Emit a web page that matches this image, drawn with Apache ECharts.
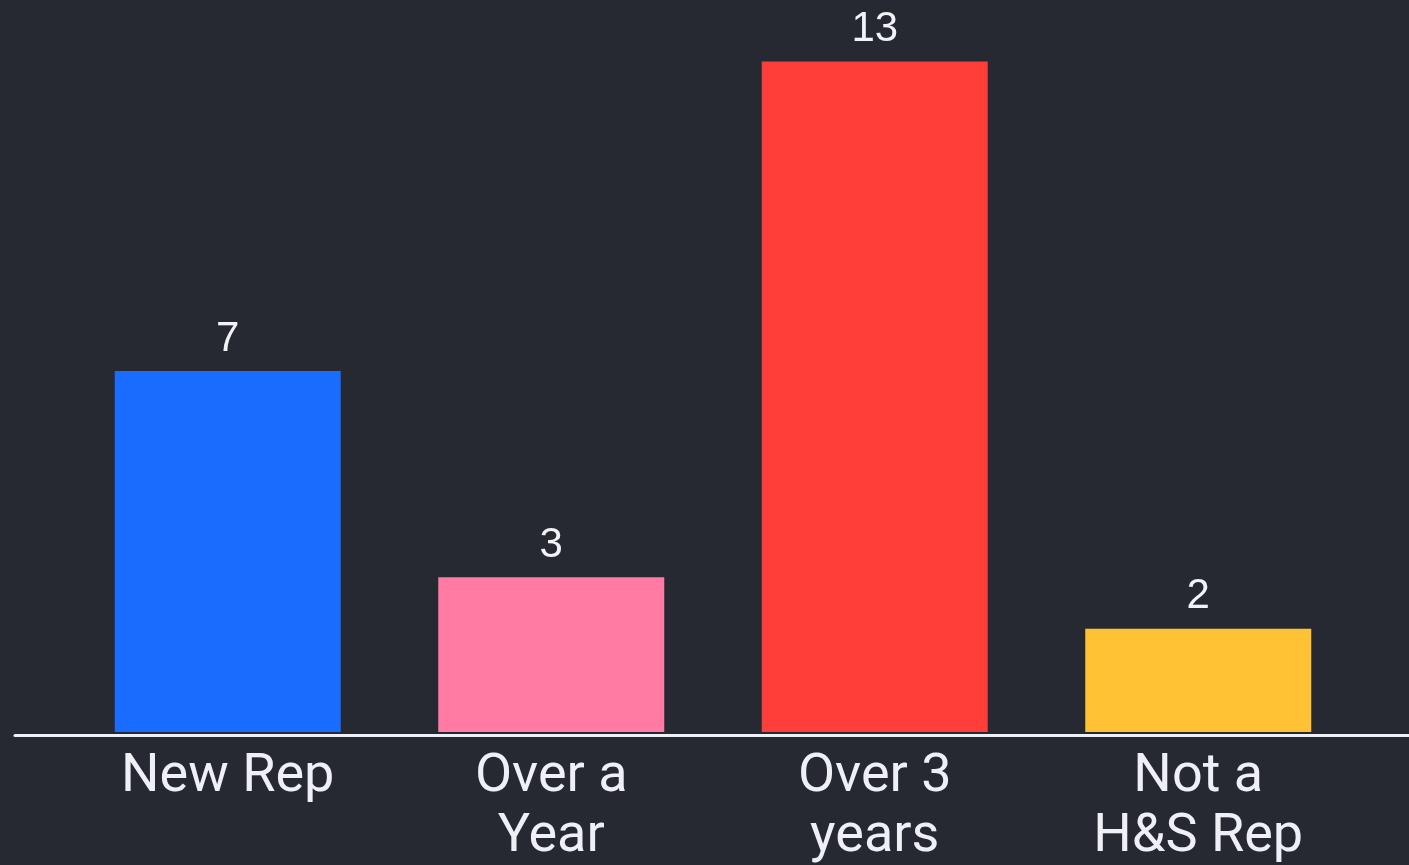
<!DOCTYPE html>
<html lang="en">
<head>
    <meta charset="UTF-8" />
    <title>H&amp;S Reps</title>
    <style>
        body {
            margin: 0;
            padding: 0;
            background: #262932;
        }
        .chart {
            width: 1409px;
            height: 865px;
        }
    </style>
</head>
<body>
<div class="chart"></div>
<script src="https://cdn.jsdelivr.net/npm/echarts@6/dist/echarts.min.js"></script>
<script>
    // data
    const categories = ['New Rep', 'Over a\nYear', 'Over 3\nyears', 'Not a\nH&S Rep'];
    const values = [7, 3, 13, 2];
    const colors = ['#1a6bff', '#ff7ba4', '#ff3d39', '#ffc235'];

    const chart = echarts.init(document.querySelector('.chart'));
    const option = {
        backgroundColor: '#262932',
        grid: [
            // bars
            { left: 66, right: 49, top: 10, bottom: 133, outerBoundsMode: 'none' },
            // long base line
            { left: 15, right: 0, top: 10, bottom: 130, outerBoundsMode: 'none' }
        ],
        xAxis: [
            {
                type: 'category',
                gridIndex: 0,
                data: categories,
                axisLine: { show: false },
                axisTick: { show: false },
                axisLabel: {
                    color: '#eef0f6',
                    fontFamily: 'Roboto',
                    fontSize: 54,
                    lineHeight: 60,
                    margin: 15,
                    interval: 0
                }
            },
            {
                type: 'category',
                gridIndex: 1,
                data: [''],
                axisLine: { show: true, lineStyle: { color: '#eef0f8', width: 3 } },
                axisTick: { show: false },
                axisLabel: { show: false }
            }
        ],
        yAxis: [
            { type: 'value', gridIndex: 0, min: 0, max: 14, show: false },
            { type: 'value', gridIndex: 1, show: false }
        ],
        series: [{
            type: 'bar',
            xAxisIndex: 0,
            yAxisIndex: 0,
            barWidth: 226,
            data: values.map((v, i) => ({ value: v, itemStyle: { color: colors[i] } })),
            label: {
                show: true,
                position: 'top',
                distance: 11,
                color: '#f2f3f7',
                fontFamily: 'Liberation Sans',
                fontSize: 42
            }
        }]
    };
    chart.setOption(option);
</script>
</body>
</html>
